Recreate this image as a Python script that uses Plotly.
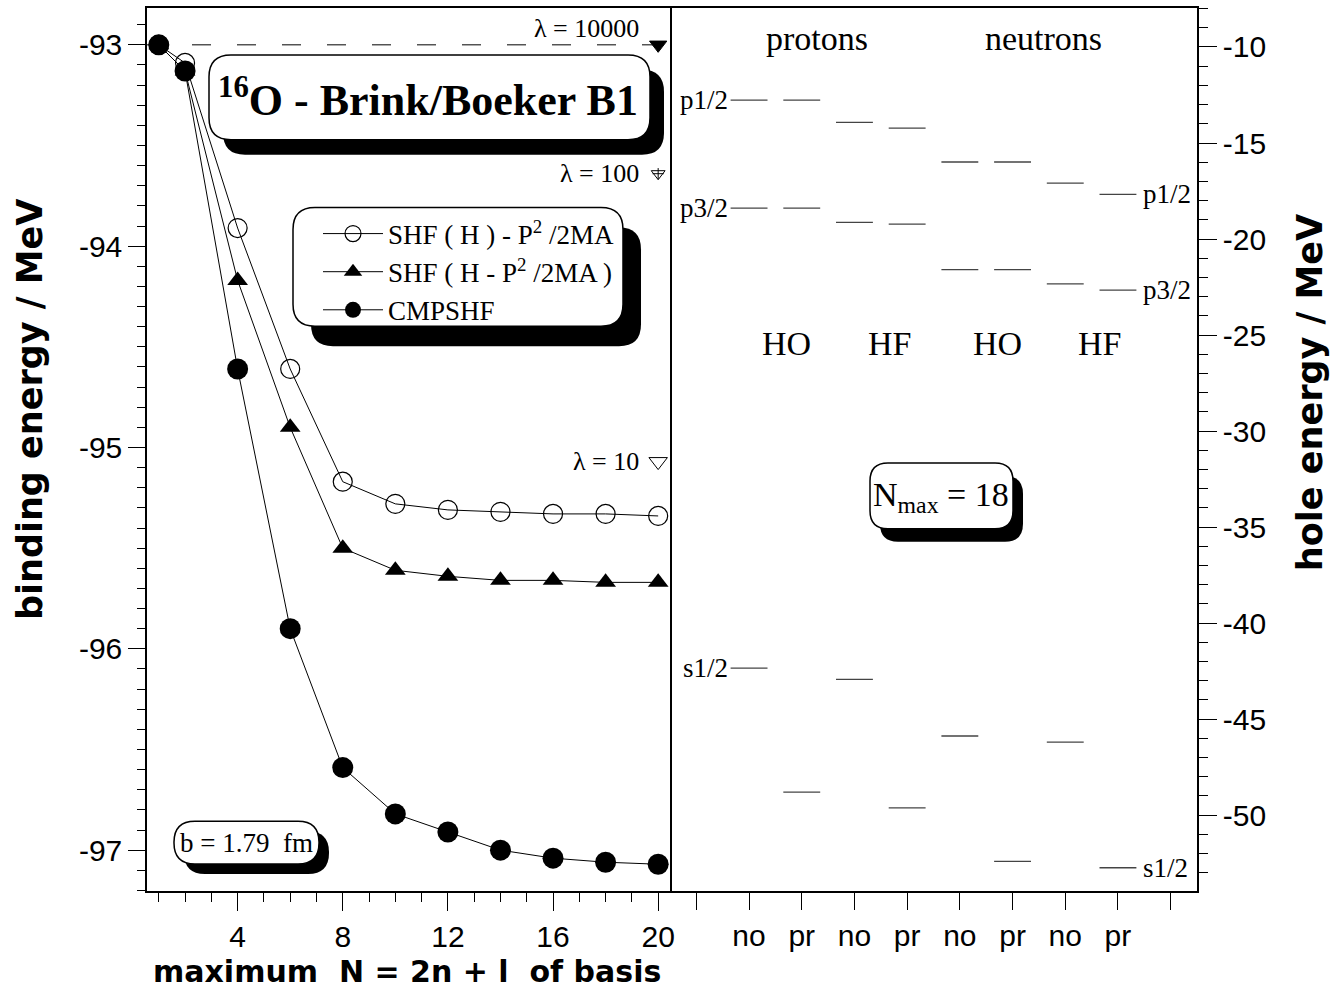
import plotly.graph_objects as go

# ---------------- data ----------------
N_basis = [1, 2, 4, 6, 8, 10, 12, 14, 16, 18, 20]
E_shf_h_minus_p2 = [-93.00, -93.09, -93.91, -94.61, -95.17, -95.28, -95.31, -95.32, -95.33, -95.33, -95.34]
E_shf_h_p2_inside = [-93.00, -93.13, -94.17, -94.90, -95.50, -95.61, -95.64, -95.66, -95.66, -95.67, -95.67]
E_cmpshf = [-93.00, -93.13, -94.61, -95.90, -96.59, -96.82, -96.91, -97.00, -97.04, -97.06, -97.07]
series_names = ["SHF ( H ) - P<sup>2</sup> /2MA", "SHF ( H - P<sup>2</sup> /2MA )", "CMPSHF"]

lam_labels = ["λ = 10000", "λ = 100", "λ = 10"]
lam_N = [20, 20, 20]
lam_E = [-93.00, -93.64, -95.07]

left_yticks = [-97, -96, -95, -94, -93]
left_yticktext = ["-97", "-96", "-95", "-94", "-93"]
left_xticks = [4, 8, 12, 16, 20]

# right panel: single-particle hole energies
level_cols = [2, 3, 4, 5, 6, 7, 8, 9]
col_ticktext = ["no", "pr", "no", "pr", "no", "pr", "no", "pr"]
E_p12 = [-12.77, -12.77, -13.93, -14.22, -15.99, -15.99, -17.09, -17.68]
E_p32 = [-18.39, -18.39, -19.13, -19.22, -21.59, -21.59, -22.34, -22.66]
E_s12 = [-42.34, -48.80, -42.93, -49.62, -45.88, -52.41, -46.20, -52.74]
level_names = ["p1/2", "p3/2", "s1/2"]
right_yticks = [-50, -45, -40, -35, -30, -25, -20, -15, -10]
right_yticktext = ["-50", "-45", "-40", "-35", "-30", "-25", "-20", "-15", "-10"]
species = ["protons", "neutrons"]
methods = ["HO", "HF", "HO", "HF"]

# ---------------- layout geometry (pixels) ----------------
W, H = 1336, 994
L, R, T, B = 147, 1197, 6, 891
SPLIT = 670

def px(x):
    return (x - L) / (R - L)

def py(y):
    return (B - y) / (B - T)

SERIF = "Liberation Serif, Times New Roman, serif"
SANS = "Liberation Sans, Arial, sans-serif"
SANSB = "DejaVu Sans, sans-serif"

fig = go.Figure()

# dashed lambda = 10000 reference line
fig.add_trace(go.Scatter(x=[0.552, lam_N[0]], y=[lam_E[0], lam_E[0]], mode="lines",
                         line=dict(color="black", width=1, dash="19px,26px"),
                         showlegend=False, hoverinfo="skip", xaxis="x", yaxis="y"))

styles = [
    dict(symbol="circle-open", size=19, color="black", line=dict(width=1.2, color="black")),
    dict(symbol="triangle-up", size=18, color="black"),
    dict(symbol="circle", size=21, color="black"),
]
for name, ys, st in zip(series_names, [E_shf_h_minus_p2, E_shf_h_p2_inside, E_cmpshf], styles):
    fig.add_trace(go.Scatter(x=N_basis, y=ys, mode="lines+markers", name=name,
                             line=dict(color="black", width=1), marker=st,
                             xaxis="x", yaxis="y"))

# lambda end markers
fig.add_trace(go.Scatter(x=lam_N, y=lam_E, mode="markers", showlegend=False,
                         marker=dict(symbol=["triangle-down", "triangle-down-open", "triangle-down-open"],
                                     size=[15, 12, 16], color="black", opacity=1,
                                     line=dict(width=1, color="black")),
                         xaxis="x", yaxis="y"))
fig.add_trace(go.Scatter(x=[lam_N[1]], y=[lam_E[1]], mode="markers", showlegend=False,
                         marker=dict(symbol="cross-thin-open", size=8, color="black",
                                     line=dict(width=1, color="black")),
                         xaxis="x", yaxis="y"))

# level lines in right panel
HW = 0.35
for levels in [E_p12, E_p32, E_s12]:
    xs, ys = [], []
    for c, v in zip(level_cols, levels):
        xs += [c - HW, c + HW, None]
        ys += [v, v, None]
    fig.add_trace(go.Scatter(x=xs, y=ys, mode="lines", line=dict(color="#444444", width=1.3),
                             showlegend=False, hoverinfo="skip", xaxis="x2", yaxis="y2"))

# ---------------- boxes with shadows ----------------
def rr_path(x0, y0, x1, y1, r):
    P = lambda x, y: f"{px(x):.5f},{py(y):.5f}"
    return (f"M {P(x0 + r, y0)} L {P(x1 - r, y0)} Q {P(x1, y0)} {P(x1, y0 + r)} "
            f"L {P(x1, y1 - r)} Q {P(x1, y1)} {P(x1 - r, y1)} L {P(x0 + r, y1)} "
            f"Q {P(x0, y1)} {P(x0, y1 - r)} L {P(x0, y0 + r)} Q {P(x0, y0)} {P(x0 + r, y0)} Z")

shapes = []
boxes = [  # x0, y0, x1, y1, radius, shadow dx, shadow dy
    (209, 53, 650, 138, 22, 14, 15),
    (293, 206, 623, 325, 22, 18, 20),
    (174, 821, 319, 864, 21, 10, 10),
    (870, 462, 1013, 528, 18, 10, 13),
]
for x0, y0, x1, y1, r, dx, dy in boxes:
    shapes.append(dict(type="path", xref="paper", yref="paper", layer="below",
                       path=rr_path(x0 + dx, y0 + dy, x1 + dx, y1 + dy, r),
                       fillcolor="black", line=dict(width=0)))
    shapes.append(dict(type="path", xref="paper", yref="paper", layer="below",
                       path=rr_path(x0, y0, x1, y1, r),
                       fillcolor="white", line=dict(width=1.5, color="black")))

# ---------------- annotations ----------------
ann = []
def txt(x, y, text, size, family=SERIF, xanchor="center", yanchor="middle", xref="paper", yref="paper",
        angle=0, xshift=0, yshift=0):
    ann.append(dict(x=x, y=y, xref=xref, yref=yref, text=text, showarrow=False,
                    font=dict(family=family, size=size, color="black"),
                    xanchor=xanchor, yanchor=yanchor, textangle=angle, xshift=xshift, yshift=yshift))

txt(px(428), py(96), "<b><sup>16</sup>O - Brink/Boeker B1</b>", 44)
for lab, n, e, ys in zip(lam_labels, lam_N, lam_E, [16, 0, 0]):
    txt(n, e, lab, 26, xanchor="right", xref="x", yref="y", xshift=-17, yshift=ys)
txt(px(246), py(843), "b = 1.79  fm", 27)
txt(px(941), py(496), "N<sub>max</sub> = 18", 34)
txt(px(817), py(37), species[0], 34)
txt(px(1043), py(37), species[1], 34)
for m, xc in zip(methods, [786, 889, 997, 1099]):
    txt(px(xc), py(342), m, 34)
for name, levels in zip(level_names, [E_p12, E_p32, E_s12]):
    txt(level_cols[0] - HW, levels[0], name, 27, xanchor="right", xref="x2", yref="y2", xshift=-1)
    txt(level_cols[-1] + HW, levels[-1], name, 27, xanchor="left", xref="x2", yref="y2", xshift=5)

# axis titles
txt(px(30), py(408), "<b>binding energy / MeV</b>", 35, family=SANSB, angle=-90)
txt(px(1310), py(392), "<b>hole energy / MeV</b>", 35, family=SANSB, angle=-90)
txt(px(407), py(972), "<b>maximum\u00a0\u00a0N = 2n + l\u00a0\u00a0of basis</b>", 30, family=SANSB)

d = (SPLIT - L) / (R - L)
tickfont = dict(family=SANS, size=30, color="black")
common = dict(showgrid=False, zeroline=False, showline=True, linecolor="black", linewidth=1.5,
              ticks="outside", tickcolor="black", tickwidth=1.2, tickfont=tickfont)

fig.update_layout(
    width=W, height=H,
    margin=dict(l=L, r=W - R, t=T, b=H - B),
    paper_bgcolor="white", plot_bgcolor="white",
    shapes=shapes, annotations=ann,
    showlegend=True,
    legend=dict(x=px(318), y=py(208), xanchor="left", yanchor="top",
                bgcolor="rgba(0,0,0,0)", borderwidth=0, itemwidth=60,
                font=dict(family=SERIF, size=27, color="black")),
    xaxis=dict(domain=[0, d], range=[0.552, 20.45], tickvals=left_xticks, ticklen=18, mirror=True,
               minor=dict(dtick=1, tick0=0, ticklen=9, ticks="outside", tickcolor="black", tickwidth=1.2),
               anchor="y", **common),
    yaxis=dict(domain=[0, 1], range=[-97.203, -92.817], tickvals=left_yticks, ticktext=left_yticktext,
               ticklen=17, mirror=True,
               minor=dict(dtick=0.1, tick0=0, ticklen=8, ticks="outside", tickcolor="black", tickwidth=1.2),
               anchor="x", **common),
    xaxis2=dict(domain=[d, 1], range=[0.5, 10.5], tickvals=level_cols, ticktext=col_ticktext, ticklen=17,
                mirror=True,
                minor=dict(dtick=1, tick0=0, ticklen=17, ticks="outside", tickcolor="black", tickwidth=1.2),
                anchor="y2", **common),
    yaxis2=dict(domain=[0, 1], range=[-53.95, -7.97], tickvals=right_yticks, ticktext=right_yticktext,
                side="right", ticklen=18, mirror=False,
                minor=dict(dtick=1, tick0=0, ticklen=9, ticks="outside", tickcolor="black", tickwidth=1.2),
                anchor="x2", **common),
)

fig.write_html("out.html")
